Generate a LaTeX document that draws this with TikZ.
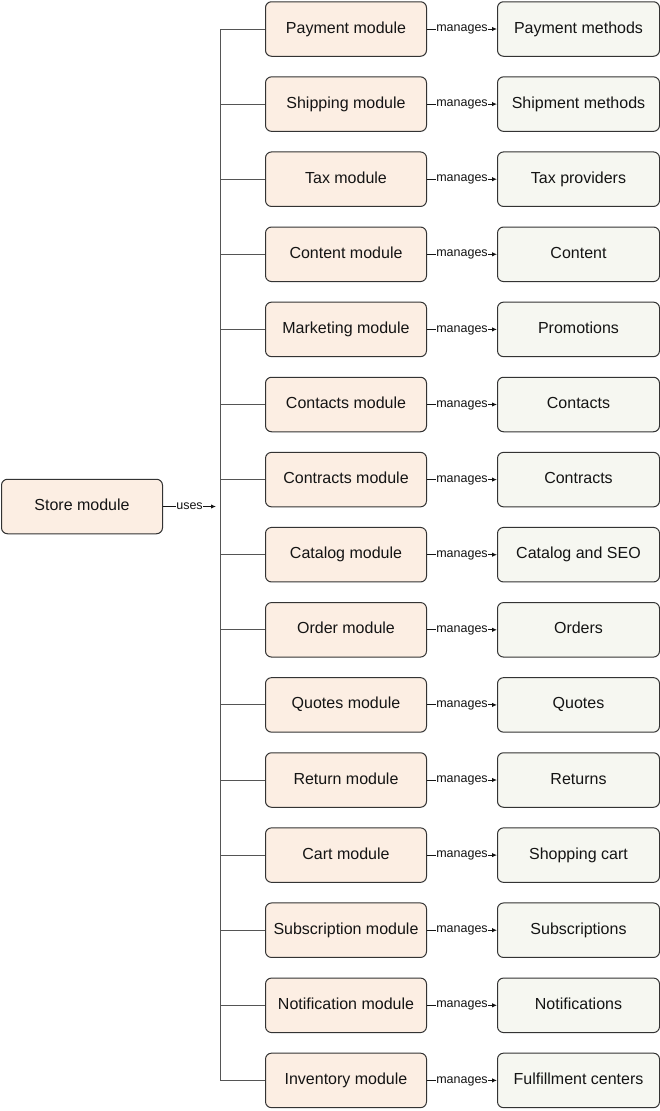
\documentclass[tikz,border=0pt]{standalone}
\usepackage{fontspec}
\setmainfont{Liberation Sans}
\usetikzlibrary{arrows.meta,positioning}
\definecolor{ModFill}{HTML}{FCEEE3}
\definecolor{ResFill}{HTML}{F6F7F1}
\definecolor{LineGray}{HTML}{555555}

\begin{document}
\begin{tikzpicture}[x=1pt, y=1pt, line width=1pt, color=black!92,
      every node/.append style={font=\fontsize{16}{19}\selectfont},
      node distance=19.6pt and 70pt]
    \tikzstyle{module} = [draw=black!80, fill=ModFill, rounded corners=6pt, minimum width=161pt, minimum height=54.5pt, inner sep=0pt, text height=11.5pt, text depth=3.4pt]
    \tikzstyle{resource} = [module, fill=ResFill, minimum width=162pt]
    \tikzstyle{rel} = [font=\fontsize{12.5}{14}\selectfont, fill=white, inner sep=0.5pt, text height=1ex, text depth=0pt]
    \tikzstyle{branch} = [draw=LineGray]
    \tikzstyle{link} = [-{Latex[length=5pt,width=4.5pt]}]
    \useasboundingbox (0,0) rectangle (660,-1111);
    % modules
    \node[module] (store) at (82,-506.5) {Store module};
    \node[module] (payment) at (346,-29) {Payment module};
    \node[module, below=of payment] (shipping) {Shipping module};
    \node[module, below=of shipping] (tax) {Tax module};
    \node[module, below=of tax] (content) {Content module};
    \node[module, below=of content] (marketing) {Marketing module};
    \node[module, below=of marketing] (contacts) {Contacts module};
    \node[module, below=of contacts] (contracts) {Contracts module};
    \node[module, below=of contracts] (catalog) {Catalog module};
    \node[module, below=of catalog] (order) {Order module};
    \node[module, below=of order] (quotes) {Quotes module};
    \node[module, below=of quotes] (return) {Return module};
    \node[module, below=of return] (cart) {Cart module};
    \node[module, below=of cart] (subscription) {Subscription module};
    \node[module, below=of subscription] (notification) {Notification module};
    \node[module, below=of notification] (inventory) {Inventory module};
    % managed resources
    \node[resource, right=of payment] (payment_res) {Payment methods};
    \node[resource, right=of shipping] (shipping_res) {Shipment methods};
    \node[resource, right=of tax] (tax_res) {Tax providers};
    \node[resource, right=of content] (content_res) {Content};
    \node[resource, right=of marketing] (marketing_res) {Promotions};
    \node[resource, right=of contacts] (contacts_res) {Contacts};
    \node[resource, right=of contracts] (contracts_res) {Contracts};
    \node[resource, right=of catalog] (catalog_res) {Catalog and SEO};
    \node[resource, right=of order] (order_res) {Orders};
    \node[resource, right=of quotes] (quotes_res) {Quotes};
    \node[resource, right=of return] (return_res) {Returns};
    \node[resource, right=of cart] (cart_res) {Shopping cart};
    \node[resource, right=of subscription] (subscription_res) {Subscriptions};
    \node[resource, right=of notification] (notification_res) {Notifications};
    \node[resource, right=of inventory] (inventory_res) {Fulfillment centers};
    % store uses the modules
    \coordinate (bus) at (220,-506.5);
    \coordinate (bus_in) at (216,-506.5);
    \draw[link] (store) -- node[rel] {uses} (bus_in);
    \draw[branch] (payment) -| (bus);
    \draw[branch] (shipping) -| (bus);
    \draw[branch] (tax) -| (bus);
    \draw[branch] (content) -| (bus);
    \draw[branch] (marketing) -| (bus);
    \draw[branch] (contacts) -| (bus);
    \draw[branch] (contracts) -| (bus);
    \draw[branch] (catalog) -| (bus);
    \draw[branch] (order) -| (bus);
    \draw[branch] (quotes) -| (bus);
    \draw[branch] (return) -| (bus);
    \draw[branch] (cart) -| (bus);
    \draw[branch] (subscription) -| (bus);
    \draw[branch] (notification) -| (bus);
    \draw[branch] (inventory) -| (bus);
    % each module manages its resources
    \draw[link] (payment) -- node[rel] {manages} (payment_res);
    \draw[link] (shipping) -- node[rel] {manages} (shipping_res);
    \draw[link] (tax) -- node[rel] {manages} (tax_res);
    \draw[link] (content) -- node[rel] {manages} (content_res);
    \draw[link] (marketing) -- node[rel] {manages} (marketing_res);
    \draw[link] (contacts) -- node[rel] {manages} (contacts_res);
    \draw[link] (contracts) -- node[rel] {manages} (contracts_res);
    \draw[link] (catalog) -- node[rel] {manages} (catalog_res);
    \draw[link] (order) -- node[rel] {manages} (order_res);
    \draw[link] (quotes) -- node[rel] {manages} (quotes_res);
    \draw[link] (return) -- node[rel] {manages} (return_res);
    \draw[link] (cart) -- node[rel] {manages} (cart_res);
    \draw[link] (subscription) -- node[rel] {manages} (subscription_res);
    \draw[link] (notification) -- node[rel] {manages} (notification_res);
    \draw[link] (inventory) -- node[rel] {manages} (inventory_res);
\end{tikzpicture}
\end{document}
